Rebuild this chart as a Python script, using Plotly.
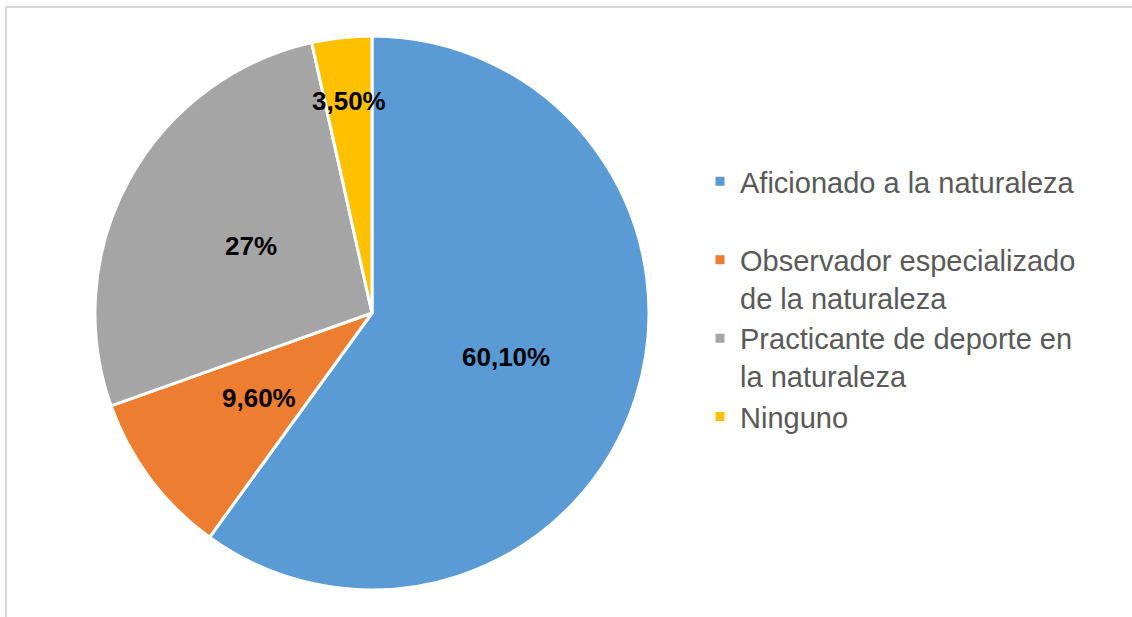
import math
import plotly.graph_objects as go

categories = [
    "Aficionado a la naturaleza<br> ",
    "Observador especializado<br>de la naturaleza",
    "Practicante de deporte en<br>la naturaleza",
    "Ninguno",
]
values = [60.1, 9.6, 27.0, 3.5]
value_labels = ["60,10%", "9,60%", "27%", "3,50%"]
colors = ["#5B9BD5", "#ED7D31", "#A5A5A5", "#FFC000"]

# style: radial position of each value label as fraction of the radius
label_radius = [0.51, 0.51, 0.50, 0.77]

W, H = 1132, 617
cx, cy, R = 372, 313, 277

fig = go.Figure(
    go.Pie(
        labels=categories,
        values=values,
        textinfo="none",
        marker=dict(colors=colors, line=dict(color="white", width=3)),
        sort=False,
        direction="clockwise",
        rotation=0,
        hoverinfo="label+percent",
        domain=dict(
            x=[(cx - R) / W, (cx + R) / W],
            y=[(H - cy - R) / H, (H - cy + R) / H],
        ),
    )
)

# value labels placed at the middle angle of each slice, derived from the data
total = sum(values)
annotations = []
cum = 0.0
for v, txt, rf in zip(values, value_labels, label_radius):
    mid = (cum + v / 2) / total * 2 * math.pi
    cum += v
    px = cx + rf * R * math.sin(mid)
    py = cy - rf * R * math.cos(mid)
    annotations.append(
        dict(
            x=px / W,
            y=1 - py / H,
            xref="paper",
            yref="paper",
            text=txt,
            showarrow=False,
            xanchor="center",
            yanchor="middle",
            font=dict(family="Liberation Sans, Arial", size=26, color="black", weight="bold"),
        )
    )

fig.update_layout(
    width=W,
    height=H,
    margin=dict(l=0, r=0, t=0, b=0),
    paper_bgcolor="white",
    plot_bgcolor="white",
    showlegend=True,
    legend=dict(
        x=700 / W,
        y=(H - 156) / H,
        xanchor="left",
        yanchor="top",
        valign="top",
        font=dict(family="Liberation Sans, Arial", size=29, color="#595959"),
        bgcolor="rgba(0,0,0,0)",
    ),
    annotations=annotations,
    shapes=[
        dict(
            type="rect",
            xref="paper",
            yref="paper",
            x0=6 / W,
            x1=1.02,
            y0=-0.02,
            y1=(H - 7) / H,
            line=dict(color="#D9D9D9", width=2),
            fillcolor="rgba(0,0,0,0)",
            layer="below",
        )
    ],
)

fig.write_html(
    "out.html",
    config={"displayModeBar": False},
    post_script="document.body.style.margin='0';",
)
